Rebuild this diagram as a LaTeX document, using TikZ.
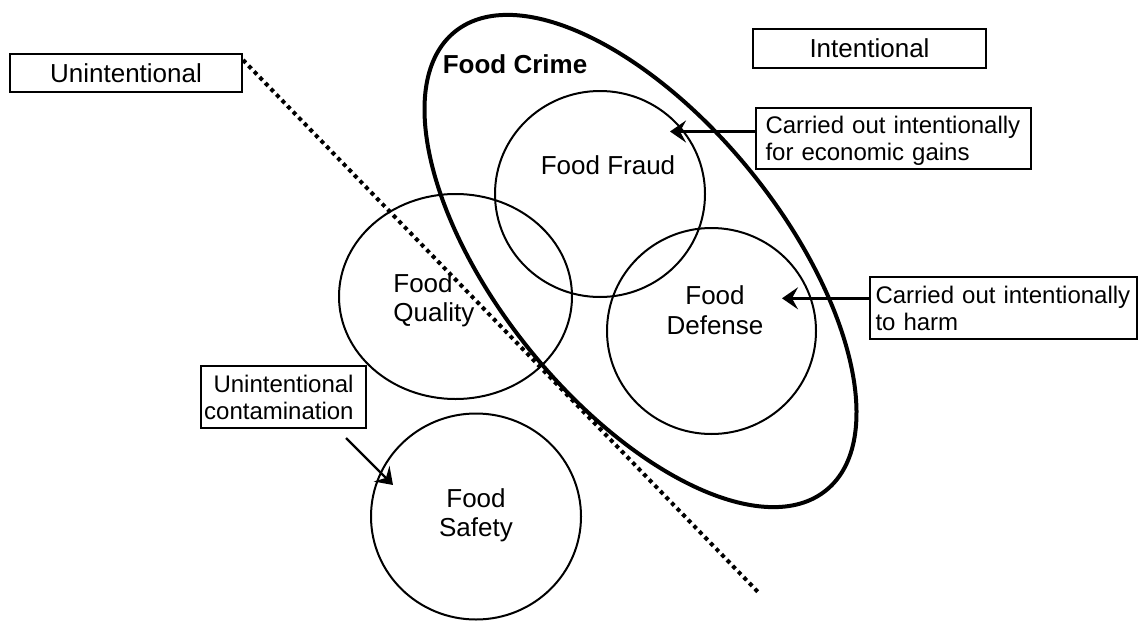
\documentclass[tikz,border=0pt]{standalone}
\usepackage{fontspec}
\setmainfont{Liberation Sans}
\usetikzlibrary{shapes.geometric,arrows.meta}
\begin{document}
\begin{tikzpicture}[x=0.5pt,y=-0.5pt,
  ring/.style={draw, ellipse, line width=1pt, inner sep=0pt},
  lbl/.style={inner sep=0pt, font=\fontsize{13}{14.75}\selectfont},
  tagbox/.style={draw, line width=1pt, font=\fontsize{13}{15}\selectfont, inner sep=0pt},
  callout/.style={draw, line width=1pt, font=\fontsize{12}{13.5}\selectfont, align=left, inner ysep=0pt},
  pointer/.style={line width=1.2pt, -{Stealth[length=8pt,width=11pt,inset=3pt]}}
]
\useasboundingbox (0,0) rectangle (1146,621);

% divider
\coordinate (divA) at (243,60);
\coordinate (divB) at (758,592);
\draw[line width=2pt, dash pattern=on 2pt off 2pt] (divA) -- (divB);

% food crime ellipse
\node[draw, ellipse, line width=2pt, minimum width=295pt, minimum height=142pt, rotate=-51, inner sep=0pt] (crime) at (640.5,261) {};

% circles
\node[ring, minimum width=105pt, minimum height=103pt] (fraud) at (600,194) {};
\node[ring, minimum width=116.5pt, minimum height=102.5pt] (quality) at (455.5,296.5) {};
\node[ring, minimum width=104.5pt, minimum height=103pt] (defense) at (711.5,331) {};
\node[ring, minimum width=105pt, minimum height=103pt] (safety) at (476,516.5) {};

% labels
\node[lbl, anchor=base] (fraudtxt) at (608,174.3) {Food Fraud};
\node[lbl, anchor=base west, align=left] (qualtxt) at (393,321.7) {Food\\Quality};
\node[lbl, anchor=base, align=center] (deftxt) at (715,334.3) {Food\\Defense};
\node[lbl, anchor=base, align=center] (saftxt) at (476,536.7) {Food\\Safety};
\node[lbl, anchor=base, font=\bfseries\fontsize{13}{15}\selectfont] (crimetxt) at (515,73) {Food Crime};

% boxes
\node[tagbox, minimum width=116pt, minimum height=19pt] (unint) at (126,73) {Unintentional};
\node[tagbox, minimum width=116.5pt, minimum height=19.5pt] (intent) at (869.5,48.5) {Intentional};

\node[callout, text width=128pt, inner xsep=4.75pt, minimum height=30.5pt] (econ) at (893.5,138.5) {Carried out intentionally\\\raisebox{0pt}[\height][0pt]{for economic gains}};
\node[callout, text width=128pt, inner xsep=2.75pt, minimum height=31pt] (harm) at (1003.5,308) {Carried out intentionally\\to harm};

\node[draw, line width=1pt, minimum width=82.5pt, minimum height=31pt, inner sep=0pt] (contbox) at (283.5,397) {};
\node[inner sep=0pt, align=right, anchor=east, font=\fontsize{12}{13.5}\selectfont] (conttxt) at (354,397) {Unintentional\\contamination};

% arrows
\coordinate (tipA) at (670,131.5);
\draw[pointer] (econ.west |- tipA) -- (tipA);
\coordinate (tipB) at (782,298.3);
\draw[pointer] (harm.west |- tipB) -- (tipB);
\coordinate (startC) at (346,438);
\coordinate (tipC) at (393,485);
\draw[pointer] (startC) -- (tipC);
\end{tikzpicture}
\end{document}
